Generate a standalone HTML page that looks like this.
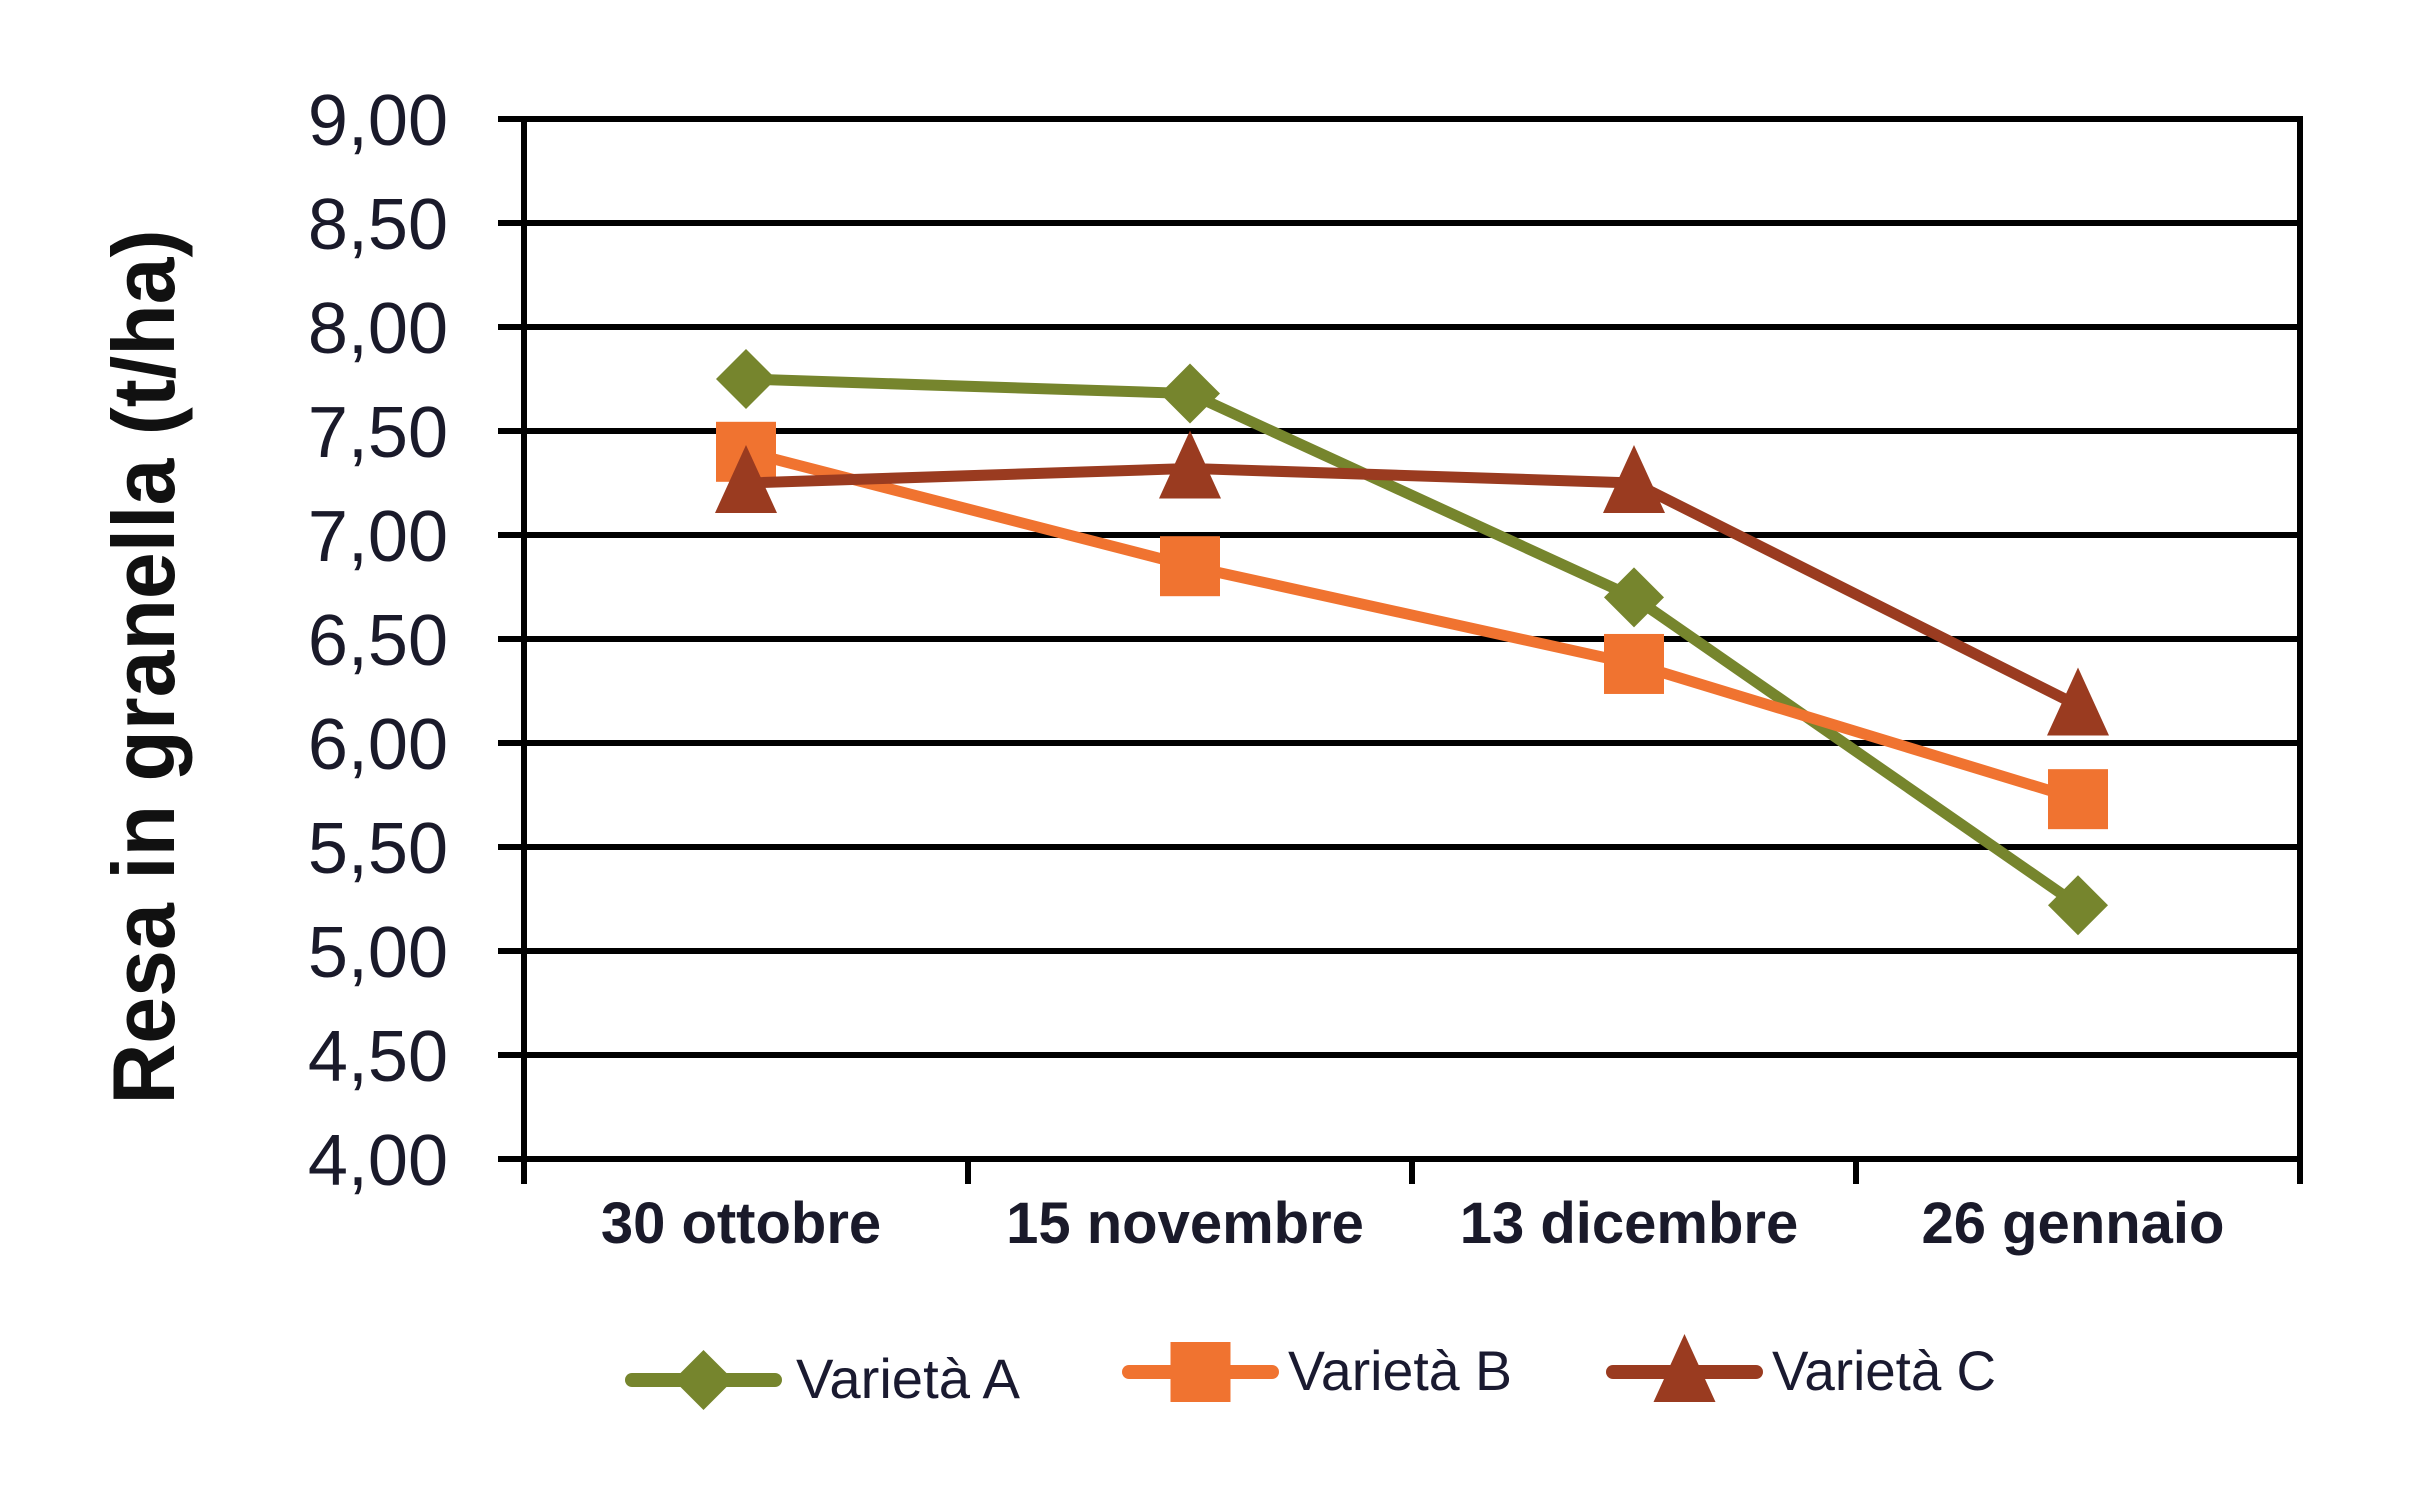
<!DOCTYPE html>
<html><head><meta charset="utf-8"><style>html,body{margin:0;padding:0;background:#fff}svg{display:block}</style></head>
<body>
<svg id="chart" width="2412" height="1506" viewBox="0 0 2412 1506" xmlns="http://www.w3.org/2000/svg" font-family="Liberation Sans, sans-serif">
<g id="grid"></g>
<g id="axes"></g>
<g id="ylabels"></g>
<g id="xlabels"></g>
<g id="series"></g>
<text x="0" y="0" transform="translate(174,667) rotate(-90)" text-anchor="middle" font-weight="bold" font-size="88" fill="#111" textLength="875" lengthAdjust="spacingAndGlyphs">Resa in granella (t/ha)</text>
<g id="legend"></g>
</svg>
<script>
const categories = ["30 ottobre","15 novembre","13 dicembre","26 gennaio"];
const seriesNames = ["Varietà A","Varietà B","Varietà C"];
const valuesA = [7.75, 7.68, 6.70, 5.22];
const valuesB = [7.40, 6.85, 6.38, 5.73];
const valuesC = [7.25, 7.32, 7.25, 6.18];
const yTicks = [4.0,4.5,5.0,5.5,6.0,6.5,7.0,7.5,8.0,8.5,9.0];

const NS="http://www.w3.org/2000/svg";
const X0=524, X1=2300, Y0=1159, Y1=119, YMIN=4, YMAX=9;
const band=(X1-X0)/categories.length;
const xs=i=>X0+band*(i+0.5);
const ys=v=>Y0-(v-YMIN)/(YMAX-YMIN)*(Y0-Y1);
function mk(tag,attrs,parent){const e=document.createElementNS(NS,tag);for(const k in attrs)e.setAttribute(k,attrs[k]);parent.appendChild(e);return e;}
const grid=document.getElementById('grid'),axes=document.getElementById('axes'),yl=document.getElementById('ylabels'),xl=document.getElementById('xlabels'),ser=document.getElementById('series'),leg=document.getElementById('legend');

yTicks.forEach(t=>{
  const y=ys(t);
  const l=mk('line',{x1:498,x2:X1,y1:y,y2:y,stroke:'#000','stroke-width':6},grid);
  
  
  const tx=mk('text',{x:448,y:y+26,'text-anchor':'end','font-size':72,fill:'#1a1a2a'},yl);
  tx.textContent=t.toFixed(2).replace('.',',');
  
  
});
let a=mk('line',{x1:X0,x2:X0,y1:Y1-3,y2:1184,stroke:'#000','stroke-width':6},axes);


for(let i=1;i<=categories.length;i++){
  const x=X0+band*i;
  const tk=mk('line',{x1:x,x2:x,y1:i===categories.length?Y1-3:Y0,y2:1184,stroke:'#000','stroke-width':6},axes);
  
  
}
categories.forEach((c,i)=>{
  const tx=mk('text',{x:xs(i)-5,y:1243,'text-anchor':'middle','font-size':58,'font-weight':'bold',fill:'#1a1a2a'},xl);
  tx.textContent=c;
  
  
});

const colors=['#76852d','#f07330','#9a3b20'];
const shapes=['diamond','square','triangle'];
function marker(shape,x,y,col,parent){
  let e;
  if(shape==='diamond') e=mk('polygon',{points:`${x},${y-30} ${x+30},${y} ${x},${y+30} ${x-30},${y}`,fill:col},parent);
  else if(shape==='square') e=mk('rect',{x:x-30,y:y-30,width:60,height:60,fill:col},parent);
  else e=mk('polygon',{points:`${x},${y-38} ${x+31},${y+30} ${x-31},${y+30}`,fill:col},parent);
  return e;
}
[valuesA,valuesB,valuesC].forEach((vals,s)=>{
  const g=mk('g',{},ser);
  
  
  const p=mk('polyline',{points:vals.map((v,i)=>xs(i)+','+ys(v)).join(' '),fill:'none',stroke:colors[s],'stroke-width':11,'stroke-linejoin':'round'},g);
  
  
  vals.forEach((v,i)=>{
    const m=marker(shapes[s],xs(i),ys(v),colors[s],g);
    
    
  });
});

const legLine=[[632,775,1380,796,1398],[1129,1272,1372,1288,1390],[1613,1756,1372,1772,1390]];
seriesNames.forEach((n,s)=>{
  const [lx1,lx2,ly,tx,ty]=legLine[s];
  const g=mk('g',{},leg);
  
  
  mk('line',{x1:lx1,x2:lx2,y1:ly,y2:ly,stroke:colors[s],'stroke-width':14,'stroke-linecap':'round'},g);
  marker(shapes[s],(lx1+lx2)/2,ly,colors[s],g);
  const t=mk('text',{x:tx,y:ty,'font-size':56,fill:'#1a1a30',textLength:224,lengthAdjust:'spacingAndGlyphs'},g);
  t.textContent=n;
});
</script>
</body></html>
